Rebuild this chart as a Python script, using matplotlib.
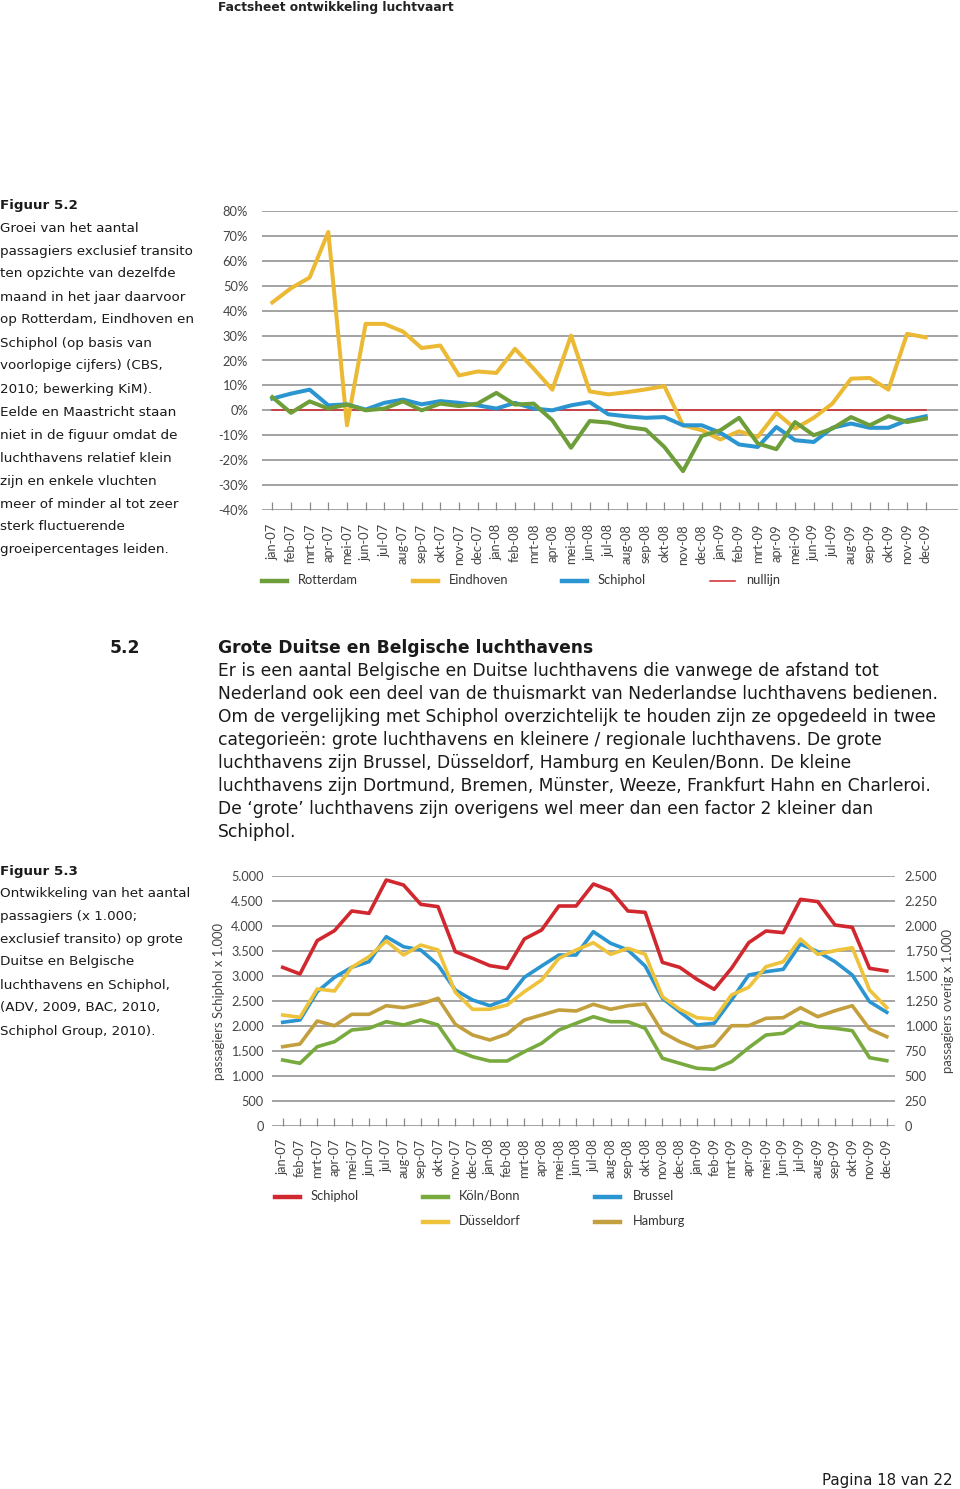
import matplotlib
matplotlib.use("Agg")
import matplotlib.pyplot as plt
from matplotlib.lines import Line2D

W, H = 960, 1489

# ---------------- data ----------------
months = ['jan-07', 'feb-07', 'mrt-07', 'apr-07', 'mei-07', 'jun-07', 'jul-07', 'aug-07',
          'sep-07', 'okt-07', 'nov-07', 'dec-07', 'jan-08', 'feb-08', 'mrt-08', 'apr-08',
          'mei-08', 'jun-08', 'jul-08', 'aug-08', 'sep-08', 'okt-08', 'nov-08', 'dec-08',
          'jan-09', 'feb-09', 'mrt-09', 'apr-09', 'mei-09', 'jun-09', 'jul-09', 'aug-09',
          'sep-09', 'okt-09', 'nov-09', 'dec-09']

# Figure 5.2: growth (%) vs same month previous year
rotterdam = [5.3, -1, 3.6, 0.7, 2.3, 0, 0.7, 3.6, 0, 2.7, 1.7, 2.7, 7, 2.3, 2.7, -4, -15, -4.3,
             -4.9, -6.7, -7.7, -14.7, -24.4, -10.3, -8, -3, -13.3, -15.6, -4.7, -10, -7.3, -2.7,
             -6, -2.3, -4.7, -3.3]
eindhoven = [43.3, 49, 53.3, 71.6, -6, 34.7, 34.7, 31.6, 25, 26, 14, 15.6, 15, 24.7, 16.7, 8.3,
             30, 7.6, 6.4, 7.3, 8.4, 9.7, -6, -8, -11.7, -8.4, -10.7, -1, -7.3, -3, 2.7, 12.7,
             13, 8.3, 30.7, 29.3]
schiphol_growth = [4.7, 6.7, 8.3, 2, 2.4, 0.3, 3, 4.3, 2.4, 3.7, 3, 2, 0.7, 3, 0.7, 0, 2, 3.3,
                   -1.6, -2.4, -3, -2.7, -6, -6, -9, -13.7, -14.7, -6.7, -12, -12.7, -7, -5.3,
                   -7, -7, -4, -2.4]
nullijn = [0] * 36
growth_ticks = [80, 70, 60, 50, 40, 30, 20, 10, 0, -10, -20, -30, -40]
growth_labels = ['80%', '70%', '60%', '50%', '40%', '30%', '20%', '10%', '0%',
                 '-10%', '-20%', '-30%', '-40%']

# Figure 5.3: passengers x 1.000
schiphol_pax = [3173, 3040, 3707, 3907, 4300, 4253, 4920, 4820, 4433, 4387, 3487, 3353,
                3207, 3153, 3740, 3920, 4400, 4400, 4840, 4707, 4300, 4273, 3273, 3173,
                2933, 2733, 3153, 3667, 3900, 3867, 4533, 4487, 4020, 3973, 3153, 3100]
koeln_bonn = [660, 627, 793, 843, 960, 977, 1043, 1010, 1060, 1010, 760, 693, 650, 650, 743,
              827, 960, 1027, 1093, 1043, 1043, 977, 677, 627, 577, 567, 643, 783, 910, 927,
              1037, 993, 977, 953, 683, 653]
brussel = [1037, 1060, 1343, 1487, 1587, 1643, 1893, 1793, 1760, 1610, 1360, 1260, 1203,
           1267, 1487, 1600, 1710, 1710, 1943, 1827, 1760, 1600, 1277, 1143, 1010, 1027,
           1260, 1510, 1543, 1567, 1820, 1743, 1643, 1510, 1243, 1137]
duesseldorf = [1110, 1087, 1370, 1350, 1587, 1693, 1850, 1710, 1810, 1760, 1337, 1167, 1167,
               1210, 1343, 1460, 1677, 1760, 1833, 1717, 1777, 1717, 1293, 1167, 1083, 1070,
               1310, 1387, 1593, 1643, 1870, 1717, 1753, 1783, 1360, 1183]
hamburg = [793, 820, 1050, 1003, 1117, 1117, 1203, 1183, 1220, 1277, 1017, 910, 860, 920,
           1060, 1110, 1160, 1150, 1217, 1167, 1203, 1220, 937, 843, 777, 803, 1003, 1003,
           1077, 1083, 1183, 1093, 1153, 1203, 970, 893]
left_ticks = [5000, 4500, 4000, 3500, 3000, 2500, 2000, 1500, 1000, 500, 0]
left_labels = ['5.000', '4.500', '4.000', '3.500', '3.000', '2.500', '2.000', '1.500',
               '1.000', '500', '0']
right_ticks = [2500, 2250, 2000, 1750, 1500, 1250, 1000, 750, 500, 250, 0]
right_labels = ['2.500', '2.250', '2.000', '1.750', '1.500', '1.250', '1.000', '750',
                '500', '250', '0']

# ---------------- style ----------------
C_GREEN = '#6e9e3a'
C_YELLOW = '#ebb934'
C_BLUE = '#2a95d0'
C_RED = '#d0282e'
C_KGREEN = '#78aa3e'
C_DYELLOW = '#efc23c'
C_GOLD = '#c39f3e'
GRID = '#8a8a8a'
TXT = '#1a1a1a'
CHART_FONT = 'Lato'

fig = plt.figure(figsize=(W / 100, H / 100), dpi=100)
fig.patch.set_facecolor('white')


def fx(x):
    return x / W


def fy(y):
    return 1 - y / H


def T(x, y, s, **kw):
    kw.setdefault('va', 'center')
    kw.setdefault('ha', 'left')
    kw.setdefault('color', TXT)
    kw.setdefault('family', 'DejaVu Sans')
    fig.text(fx(x), fy(y), s, **kw)


def add_axes_px(left, top, right, bottom):
    return fig.add_axes([fx(left), fy(bottom), (right - left) / W, (bottom - top) / H])


# ---------------- header / texts ----------------
T(218, 8, 'Factsheet ontwikkeling luchtvaart', fontsize=8.8, fontweight='bold', color='#222222')

left1 = ['Groei van het aantal', 'passagiers exclusief transito', 'ten opzichte van dezelfde',
         'maand in het jaar daarvoor', 'op Rotterdam, Eindhoven en', 'Schiphol (op basis van',
         'voorlopige cijfers) (CBS,', '2010; bewerking KiM).', 'Eelde en Maastricht staan',
         'niet in de figuur omdat de', 'luchthavens relatief klein', 'zijn en enkele vluchten',
         'meer of minder al tot zeer', 'sterk fluctuerende', 'groeipercentages leiden.']
T(0, 205, 'Figuur 5.2', fontsize=9.7, fontweight='bold')
for k, s in enumerate(left1):
    T(0, 228 + 23 * k, s, fontsize=9.7)

left2 = ['Ontwikkeling van het aantal', 'passagiers (x 1.000;', 'exclusief transito) op grote',
         'Duitse en Belgische', 'luchthavens en Schiphol,', '(ADV, 2009, BAC, 2010,',
         'Schiphol Group, 2010).']
T(0, 871, 'Figuur 5.3', fontsize=9.7, fontweight='bold')
for k, s in enumerate(left2):
    T(0, 893 + 23 * k, s, fontsize=9.7)

T(110, 648, '5.2', fontsize=12.3, fontweight='bold')
T(218, 648, 'Grote Duitse en Belgische luchthavens', fontsize=12.3, fontweight='bold')
para = ['Er is een aantal Belgische en Duitse luchthavens die vanwege de afstand tot',
        'Nederland ook een deel van de thuismarkt van Nederlandse luchthavens bedienen.',
        'Om de vergelijking met Schiphol overzichtelijk te houden zijn ze opgedeeld in twee',
        'categorieën: grote luchthavens en kleinere / regionale luchthavens. De grote',
        'luchthavens zijn Brussel, Düsseldorf, Hamburg en Keulen/Bonn. De kleine',
        'luchthavens zijn Dortmund, Bremen, Münster, Weeze, Frankfurt Hahn en Charleroi.',
        'De \u2018grote\u2019 luchthavens zijn overigens wel meer dan een factor 2 kleiner dan',
        'Schiphol.']
for k, s in enumerate(para):
    T(218, 671 + 23 * k, s, fontsize=12.3)

T(822, 1480, 'Pagina 18 van 22', fontsize=10.8)

# ---------------- chart 1 ----------------
x = list(range(len(months)))
ax1 = add_axes_px(262, 211, 958, 510)
ax1.set_xlim((262 - 272.3) / 18.67, (958 - 272.3) / 18.67)
ax1.set_ylim(-40, 80)
for s in ax1.spines.values():
    s.set_visible(False)
ax1.set_yticks(growth_ticks)
ax1.set_yticklabels(growth_labels, family=CHART_FONT, fontsize=9.3, color='#444444')
ax1.tick_params(axis='y', length=0, pad=10)
ax1.grid(axis='y', color=GRID, lw=1.1)
ax1.set_axisbelow(True)
ax1.set_xticks(x)
ax1.set_xticklabels(months, rotation=90, family=CHART_FONT, fontsize=9.3, color='#444444')
ax1.tick_params(axis='x', direction='in', length=6, width=0.9, color=GRID, pad=10)

ax1.plot(x, nullijn, color=C_RED, lw=1.1, zorder=2, label='nullijn')
ax1.plot(x, eindhoven, color=C_YELLOW, lw=2.9, zorder=3, label='Eindhoven')
ax1.plot(x, schiphol_growth, color=C_BLUE, lw=2.9, zorder=4, label='Schiphol')
ax1.plot(x, rotterdam, color=C_GREEN, lw=2.9, zorder=5, label='Rotterdam')


# legend (manual)
def legend_item(x0, y, color, label, lw=3.2, tx=None):
    fig.add_artist(Line2D([fx(x0), fx(x0 + 25)], [fy(y), fy(y)], color=color, lw=lw))
    T(tx if tx is not None else x0 + 36, y - 1, label, fontsize=9.3, family=CHART_FONT,
      color='#333333')


legend_item(262, 581, C_GREEN, 'Rotterdam')
legend_item(413, 581, C_YELLOW, 'Eindhoven')
legend_item(562, 581, C_BLUE, 'Schiphol')
legend_item(710, 581, C_RED, 'nullijn', lw=1.1)

# ---------------- chart 2 ----------------
ax2 = add_axes_px(272, 876, 895, 1126)
ax2.set_xlim((272 - 282.7) / 17.26, (895 - 282.7) / 17.26)
ax2.set_ylim(0, 5000)
ax3 = ax2.twinx()
ax3.set_ylim(0, 2500)
for a in (ax2, ax3):
    for s in a.spines.values():
        s.set_visible(False)
ax2.set_yticks(left_ticks)
ax2.set_yticklabels(left_labels, family=CHART_FONT, fontsize=9.2, color='#444444')
ax2.tick_params(axis='y', length=0, pad=6)
ax3.set_yticks(right_ticks)
ax3.set_yticklabels(right_labels, family=CHART_FONT, fontsize=9.2, color='#444444')
ax3.tick_params(axis='y', length=0, pad=7)
ax2.grid(axis='y', color=GRID, lw=1.1)
ax2.set_axisbelow(True)
ax2.set_xticks(x)
ax2.set_xticklabels(months, rotation=90, family=CHART_FONT, fontsize=9.3, color='#444444')
ax2.tick_params(axis='x', direction='in', length=6, width=0.9, color=GRID, pad=9)
ax2.set_ylabel('passagiers Schiphol x 1.000', family=CHART_FONT, fontsize=9.4,
               color='#444444', labelpad=4)
ax3.set_ylabel('passagiers overig x 1.000', family=CHART_FONT, fontsize=9.4,
               color='#444444', labelpad=3)

ax2.plot(x, schiphol_pax, color=C_RED, lw=2.6, zorder=3)
ax3.plot(x, koeln_bonn, color=C_KGREEN, lw=2.6, zorder=3)
ax3.plot(x, hamburg, color=C_GOLD, lw=2.6, zorder=4)
ax3.plot(x, brussel, color=C_BLUE, lw=2.6, zorder=5)
ax3.plot(x, duesseldorf, color=C_DYELLOW, lw=2.6, zorder=6)

legend_item(275, 1197, C_RED, 'Schiphol')
legend_item(423, 1197, C_KGREEN, 'Köln/Bonn')
legend_item(595, 1197, C_BLUE, 'Brussel', tx=633)
legend_item(423, 1222, C_DYELLOW, 'Düsseldorf')
legend_item(595, 1222, C_GOLD, 'Hamburg', tx=633)

fig.savefig('out.png', dpi=100, facecolor='white')
